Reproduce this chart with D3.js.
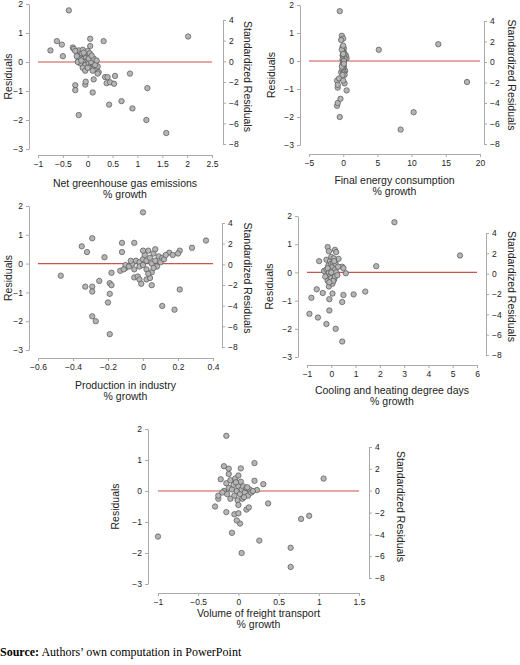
<!DOCTYPE html>
<html>
<head>
<meta charset="utf-8">
<script src="https://d3js.org/d3.v7.min.js"></script>
<style>
  body { margin: 0; background: #fff; }
  text { font-family: "Liberation Sans", Arial, sans-serif; }
</style>
</head>
<body>
<svg id="chart" width="520" height="665"></svg>
<script>
// residual vs regressor pairs: [x, residual]
const ghgPoints = [[-0.75,0.4],[-0.62,0.72],[-0.52,0.6],[-0.5,0.2],[-0.38,1.78],[-0.3,0.5],[-0.28,0.45],[-0.25,-0.8],[-0.25,-0.97],[-0.18,-1.83],[-0.05,-0.78],[-0.04,-0.68],[0.05,0.8],[0.05,0.55],[0.1,-1.05],[0.12,-0.6],[0.32,0.72],[0.35,-0.52],[0.4,-0.52],[0.38,-0.73],[0.43,-1.47],[0.45,-0.7],[0.53,-0.75],[0.55,-0.48],[0.68,-1.35],[0.85,-0.4],[0.9,-1.6],[1.18,-2.0],[1.2,-0.9],[1.58,-2.45],[2.02,0.88],
  [-0.2,0.35],[-0.18,0.4],[-0.15,0.2],[-0.12,0.3],[-0.1,0.1],[-0.1,0.42],[-0.08,0.0],[-0.06,0.25],[-0.05,-0.1],[-0.03,0.15],[0,0.05],[0,0.38],[0.02,-0.05],[0.03,0.2],[0.05,-0.15],[0.06,0.1],[0.08,-0.2],[0.1,0.05],[0.12,-0.1],[0.14,-0.22],[0.16,0.0],[0.18,-0.25],[0.2,-0.15],[0.22,-0.35],[-0.15,-0.05],[-0.18,0.1],[-0.1,-0.2],[-0.05,-0.3],[0.04,0.3],[0.1,-0.3],[-0.2,0.0],[-0.13,0.05],[0.0,-0.2],[0.07,0.0],[0.15,-0.1],[0.2,-0.4],[-0.22,0.2],[-0.08,0.32],[0.02,0.12],[0.12,0.12],[-0.25,0.38],[0.08,0.22],[0.18,0.05]];

const energyPoints = [[-0.5,1.78],[-0.2,0.9],[0,0.8],[-0.3,0.75],[5.2,0.4],[13.9,0.6],[18.1,-0.75],[10.3,-1.83],[8.4,-2.45],[0.5,-1.05],[-0.5,-2.0],[-0.9,-1.6],[-0.8,-1.5],[-0.4,-1.35],[-0.9,-0.7],[-0.6,-0.62],[-0.8,-0.95],[-0.8,-0.85],[0.2,-0.8],[0,-0.7],[0.3,-0.35],[0.5,0.1],[0.4,0.2],[-0.3,-0.4],
  [-0.1,0.5],[0.1,0.45],[0,0.35],[0.1,0.3],[-0.1,0.2],[0,0.15],[0.2,0.1],[-0.1,0.05],[0,0.0],[0.1,-0.05],[-0.1,-0.1],[0,-0.15],[0.1,-0.2],[0,-0.25],[-0.1,-0.3],[0.1,-0.4],[0,-0.45],[0.2,-0.5],[-0.2,0.4],[0.2,0.25],[0,0.55],[-0.2,-0.2],[0.1,0.0],[0,0.25],[-0.1,-0.5],[0.1,-0.1]];

const industryPoints = [[-0.47,-0.42],[-0.35,0.6],[-0.33,-0.8],[-0.32,0.4],[-0.29,0.88],[-0.29,-0.8],[-0.29,-0.97],[-0.29,-1.83],[-0.27,-2.0],[-0.25,-0.6],[-0.22,0.22],[-0.19,-0.68],[-0.19,-1.05],[-0.18,-0.75],[-0.18,-0.32],[-0.2,-1.35],[-0.19,-2.45],[-0.12,0.72],[-0.12,0.4],[-0.05,0.72],[0,1.78],[-0.05,-0.48],[-0.03,-0.45],[-0.02,-0.55],[-0.01,-0.7],[0.02,-0.55],[0.04,-0.5],[0.05,-0.75],[0.11,-1.47],[0.18,-1.6],[0.21,-0.9],[0.28,0.55],[0.36,0.8],[0.21,0.45],[0.2,0.35],[0.15,0.38],[0.17,0.3],
  [-0.13,-0.25],[-0.1,-0.15],[-0.1,-0.05],[-0.08,-0.1],[-0.06,0.0],[-0.05,-0.2],[-0.04,0.1],[-0.02,0.05],[-0.02,-0.1],[0,0.15],[0,-0.05],[0.01,0.3],[0.02,0.1],[0.02,-0.2],[0.03,0.45],[0.04,0.2],[0.05,0.0],[0.05,-0.3],[0.06,0.35],[0.07,0.1],[0.07,0.5],[0.08,-0.1],[0.09,0.25],[0.1,0.05],[0.11,0.2],[0.12,0.15],[0.13,0.3],[-0.07,0.1],[0,0.45],[0.03,-0.35],[0.06,-0.15],[-0.11,-0.2]];

const degreePoints = [[2.6,1.78],[5.3,0.6],[1.85,0.22],[1.4,-0.68],[0.92,-0.78],[0.5,-0.8],[0.45,-1.05],[0.45,-2.45],[0.18,-2.0],[-0.2,-1.83],[-0.08,-1.35],[-0.9,-1.47],[-0.55,-1.6],[-0.82,-0.9],[-0.6,-0.6],[-0.35,-0.73],[-0.08,-0.95],[0.05,-0.75],[-0.5,0.4],[-0.15,0.9],[0.15,0.8],[0.2,0.72],[-0.1,0.75],[0.45,0.2],[0.5,0.15],[0.6,-0.03],[0.3,0.48],
  [-0.3,0.05],[-0.25,-0.15],[-0.2,0.1],[-0.2,0.45],[-0.15,-0.3],[-0.12,0.25],[-0.1,0.0],[-0.1,-0.5],[-0.05,0.4],[-0.05,0.15],[-0.03,-0.1],[0,0.55],[0,0.3],[0,-0.2],[0.02,0.05],[0.05,-0.4],[0.05,0.2],[0.08,0.35],[0.1,-0.05],[0.1,0.5],[0.12,-0.25],[0.15,0.1],[0.15,-0.15],[0.18,0.3],[0.2,0.0],[0.25,-0.1],[0.28,0.2],[-0.15,0.15],[0.0,0.0],[0.08,-0.3],[-0.08,-0.35],[0.12,0.4]];

const freightPoints = [[-1,-1.47],[-0.15,1.78],[-0.18,0.8],[-0.12,0.72],[0.2,0.9],[0.03,0.73],[-0.22,0.38],[-0.12,0.55],[0.2,0.33],[0.31,0.22],[1.06,0.4],[0.23,0.03],[0.37,-0.4],[0.78,-0.9],[0.88,-0.8],[0.65,-1.83],[0.65,-2.45],[0.26,-1.6],[0.04,-2.0],[-0.08,-1.35],[0.02,-1.05],[-0.02,-0.95],[-0.05,-0.75],[-0.15,-0.68],[-0.29,-0.5],[-0.25,-0.25],[-0.25,-0.15],[0.1,-0.6],[0.13,-0.53],[0,-0.72],
  [-0.18,0.0],[-0.15,0.25],[-0.14,-0.1],[-0.12,0.1],[-0.1,-0.25],[-0.1,0.35],[-0.08,0.05],[-0.06,0.2],[-0.05,-0.15],[-0.04,0.4],[-0.02,0.0],[-0.01,-0.3],[0,0.15],[0,0.5],[0.02,-0.1],[0.03,0.3],[0.04,0.05],[0.05,-0.25],[0.06,0.15],[0.08,-0.05],[0.1,0.1],[0.12,-0.15],[0.14,0.05],[0.16,-0.05],[0.18,0.0],[-0.2,-0.05],[0.0,-0.45],[0.07,-0.2],[-0.03,0.28],[0.11,0.12]];

const resTicks = [2, 1, 0, -1, -2, -3];
const stdTicks = [4, 2, 0, -2, -4, -6, -8];

const panels = [
  {pts: ghgPoints, label: ["Net greenhouse gas emissions", "% growth"], xd: [-1, 2.5], xt: [-1,-0.5,0,0.5,1,1.5,2,2.5],
   L: 29, X0: 38, X1: 212, yT: 4, yB: 149, xa: 155, R: 223, sT: 20, sB: 144, lab: 12, sLab: 244, ly: 187},
  {pts: energyPoints, label: ["Final energy consumption", "% growth"], xd: [-5, 20], xt: [-5,0,5,10,15,20],
   L: 300, X0: 309, X1: 480, yT: 5, yB: 145, xa: 154, R: 484, sT: 21, sB: 144, lab: 275, sLab: 508, ly: 184},
  {pts: industryPoints, label: ["Production in industry", "% growth"], xd: [-0.6, 0.4], xt: [-0.6,-0.4,-0.2,0,0.2,0.4],
   L: 29, X0: 38, X1: 213, yT: 206, yB: 350, xa: 358, R: 222, sT: 223, sB: 347, lab: 12, sLab: 244, ly: 389},
  {pts: degreePoints, label: ["Cooling and heating degree days", "% growth"], xd: [-1, 6], xt: [-1,0,1,2,3,4,5,6],
   L: 298, X0: 307, X1: 477, yT: 216, yB: 357, xa: 365, R: 486, sT: 233, sB: 355, lab: 273, sLab: 508, ly: 394},
  {pts: freightPoints, label: ["Volume of freight transport", "% growth"], xd: [-1, 1.5], xt: [-1,-0.5,0,0.5,1,1.5],
   L: 148, X0: 158, X1: 359, yT: 429, yB: 584, xa: 593, R: 369, sT: 447, sB: 578, lab: 119, sLab: 397, ly: 617}
];

const svg = d3.select("#chart");
const fmt = d => d < 0 ? "\u2212" + Math.abs(d) : String(d);

function styleAxis(g) {
  g.select(".domain").attr("stroke", "#aaa");
  g.selectAll(".tick line").attr("stroke", "#aaa");
  g.selectAll(".tick text").attr("fill", "#222").style("font-size", "8.5px");
}

panels.forEach(p => {
  const x = d3.scaleLinear().domain(p.xd).range([p.X0, p.X1]);
  const y = d3.scaleLinear().domain([2, -3]).range([p.yT, p.yB]);
  const ys = d3.scaleLinear().domain([4, -8]).range([p.sT, p.sB]);
  const g = svg.append("g");

  g.append("g").attr("transform", `translate(${p.L},0)`)
    .call(d3.axisLeft(y).tickValues(resTicks).tickSize(3).tickSizeOuter(0).tickFormat(fmt))
    .call(styleAxis);
  g.append("g").attr("transform", `translate(0,${p.xa})`)
    .call(d3.axisBottom(x).tickValues(p.xt).tickSize(3).tickSizeOuter(0).tickFormat(fmt))
    .call(styleAxis);
  g.append("g").attr("transform", `translate(${p.R},0)`)
    .call(d3.axisRight(ys).tickValues(stdTicks).tickSize(3).tickSizeOuter(0).tickFormat(fmt))
    .call(styleAxis);

  g.append("line")
    .attr("x1", x(p.xd[0])).attr("x2", x(p.xd[1]))
    .attr("y1", y(0)).attr("y2", y(0))
    .attr("stroke", "#c9544c").attr("stroke-width", 1.2);

  g.selectAll("circle").data(p.pts).join("circle")
    .attr("cx", d => x(d[0])).attr("cy", d => y(d[1])).attr("r", 2.7)
    .attr("fill", "#b5b5b5").attr("stroke", "#555").attr("stroke-width", 0.7);

  const cy = (p.yT + p.yB) / 2;
  g.append("text").text("Residuals")
    .attr("transform", `translate(${p.lab},${cy}) rotate(-90)`)
    .attr("text-anchor", "middle").style("font-size", "10.5px").attr("fill", "#222");
  g.append("text").text("Standardized Residuals")
    .attr("transform", `translate(${p.sLab},${cy}) rotate(90)`)
    .attr("text-anchor", "middle").style("font-size", "10.5px").attr("fill", "#222");
  p.label.forEach((t, i) => {
    g.append("text").text(t)
      .attr("x", (p.X0 + p.X1) / 2).attr("y", p.ly + i * 11)
      .attr("text-anchor", "middle").style("font-size", "10.5px").attr("fill", "#222");
  });
});

const src = svg.append("text").attr("x", 0).attr("y", 656)
  .style("font-family", "'Liberation Serif', 'Times New Roman', serif").style("font-size", "12px");
src.append("tspan").text("Source:").style("font-weight", "bold");
src.append("tspan").text(" Authors\u2019 own computation in PowerPoint");
</script>
</body>
</html>
